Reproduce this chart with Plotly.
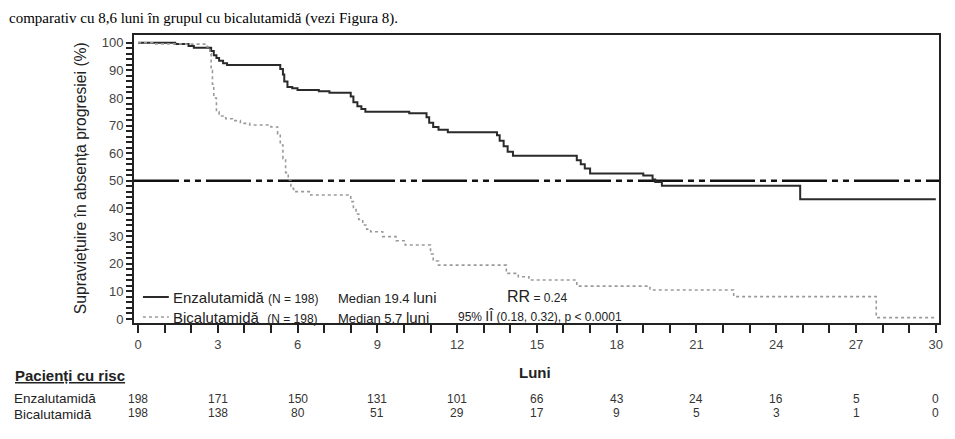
import plotly.graph_objects as go

# ---------------- data ----------------
enz_t = [0, 1.4, 1.9, 2.1, 2.75, 2.85, 2.95, 3.05, 3.2, 3.35, 5.35, 5.45, 5.5, 5.62, 5.8, 6.0,
         6.8, 7.2, 8.0, 8.1, 8.25, 8.4, 8.55, 10.2, 10.85, 10.95, 11.1, 11.3, 11.65,
         13.5, 13.6, 13.75, 13.9, 14.1, 16.5, 16.65, 16.8, 17.0, 19.0, 19.35, 19.45, 19.7, 24.9, 30.0]
enz_s = [100, 99.5, 98.8, 98.2, 97.0, 95.5, 94.5, 93.5, 92.6, 91.9, 90.5, 88.5, 86.0, 84.0, 83.5, 82.9,
         82.4, 81.9, 80.5, 78.5, 77.0, 76.0, 75.0, 74.5, 73.0, 71.0, 69.5, 68.5, 67.6,
         66.5, 64.5, 62.5, 60.5, 59.1, 57.5, 56.0, 54.5, 52.7, 51.9, 50.5, 49.6, 48.2, 43.3, 43.3]

bic_t = [0, 0.55, 1.8, 2.6, 2.7, 2.75, 2.8, 2.85, 2.95, 3.05, 3.3, 3.55, 3.85, 4.2, 5.0, 5.25, 5.35,
         5.45, 5.55, 5.65, 5.75, 5.85, 6.5, 8.0, 8.1, 8.2, 8.3, 8.45, 8.6, 8.75, 9.2, 9.7, 10.05,
         11.0, 11.1, 11.3, 13.85, 14.3, 14.7, 16.5, 19.25, 22.4, 27.76, 30.0]
bic_s = [100, 99.6, 99.5, 98.5, 96, 90, 85, 80, 75, 73.5, 72.5, 71.8, 70.8, 70.2, 69.5, 67, 63,
         58, 53, 50.3, 47.3, 46.1, 44.9, 42.5, 40, 38, 36, 34, 32.5, 31.6, 29.8, 28.3, 26.8,
         23.5, 21, 19.5, 16.5, 15.3, 14.1, 11.9, 10.5, 8.1, 0.5, 0.5]

risk_months = [0, 3, 6, 9, 12, 15, 18, 21, 24, 27, 30]
risk_enz = [198, 171, 150, 131, 101, 66, 43, 24, 16, 5, 0]
risk_bic = [198, 138, 80, 51, 29, 17, 9, 5, 3, 1, 0]

x_ticks = list(range(0, 31))
y_ticks = list(range(0, 101, 2))

FONT = "Liberation Sans, Arial, sans-serif"
SERIF = "Liberation Serif, Times New Roman, serif"
TXT = "#222222"
ENZ_COLOR = "#2a2a2a"
BIC_COLOR = "#9a9a9a"

# layout geometry (pixels)
W, H = 955, 439
L, R, T, B = 134, 12, 35, 116
PW, PH = W - L - R, H - T - B


def px_x(px):
    return (px - L) / PW


def px_y(py):
    return (H - B - py) / PH


fig = go.Figure()

fig.add_trace(go.Scatter(
    x=enz_t, y=enz_s, mode="lines", line=dict(shape="hv", color=ENZ_COLOR, width=2),
    name="Enzalutamidă", hoverinfo="skip", showlegend=False))
fig.add_trace(go.Scatter(
    x=bic_t, y=bic_s, mode="lines", line=dict(shape="hv", color=BIC_COLOR, width=1.6, dash="dot"),
    name="Bicalutamidă", hoverinfo="skip", showlegend=False))

# median reference line
fig.add_shape(type="line", xref="paper", x0=0, x1=1, yref="y", y0=50, y1=50,
              line=dict(color="#111111", width=2.5, dash="45px,5px,6px,5px,6px,5px"), layer="below")

# legend sample lines
fig.add_shape(type="line", xref="paper", yref="paper", x0=px_x(143), x1=px_x(169),
              y0=px_y(297), y1=px_y(297), line=dict(color=ENZ_COLOR, width=2))
fig.add_shape(type="line", xref="paper", yref="paper", x0=px_x(143), x1=px_x(169),
              y0=px_y(317), y1=px_y(317), line=dict(color=BIC_COLOR, width=1.6, dash="dot"))

ann = []
# header text
ann.append(dict(text="comparativ cu 8,6 luni în grupul cu bicalutamidă (vezi Figura 8).",
                xref="paper", yref="paper", x=px_x(6), y=px_y(19), xanchor="left", yanchor="middle",
                showarrow=False, font=dict(family=SERIF, size=15, color="#000000")))
# y title
ann.append(dict(text="Supraviețuire în absența progresiei (%)", xref="paper", yref="paper",
                x=px_x(80), y=px_y(178), xanchor="center", yanchor="middle", textangle=-90,
                showarrow=False, font=dict(family=FONT, size=15.7, color=TXT)))
# x title
ann.append(dict(text="<b>Luni</b>", xref="paper", yref="paper", x=px_x(537), y=px_y(372),
                xanchor="center", yanchor="middle", showarrow=False,
                font=dict(family=FONT, size=15, color=TXT)))
# legend texts
ann.append(dict(text="Enzalutamidă <span style='font-size:12px'>(N = 198)</span>", xref="paper", yref="paper",
                x=px_x(171), y=px_y(297), xanchor="left", yanchor="middle", showarrow=False,
                font=dict(family=FONT, size=15, color=TXT)))
ann.append(dict(text="Bicalutamidă&nbsp;&nbsp;<span style='font-size:12px'>(N = 198)</span>", xref="paper",
                yref="paper", x=px_x(171), y=px_y(317), xanchor="left", yanchor="middle", showarrow=False,
                font=dict(family=FONT, size=15, color=TXT)))
ann.append(dict(text="Median 19.4 <span style='font-size:15px'>luni</span>", xref="paper", yref="paper",
                x=px_x(337), y=px_y(297), xanchor="left", yanchor="middle", showarrow=False,
                font=dict(family=FONT, size=13, color=TXT)))
ann.append(dict(text="Median 5.7 <span style='font-size:15px'>luni</span>", xref="paper", yref="paper",
                x=px_x(337), y=px_y(317), xanchor="left", yanchor="middle", showarrow=False,
                font=dict(family=FONT, size=13, color=TXT)))
ann.append(dict(text="<span style='font-size:16px'>RR</span> = 0.24", xref="paper", yref="paper",
                x=px_x(507), y=px_y(296), xanchor="left", yanchor="middle", showarrow=False,
                font=dict(family=FONT, size=12, color=TXT)))
ann.append(dict(text="95% <span style='font-size:14px'>IÎ</span> (0.18, 0.32), p &lt; 0.0001",
                xref="paper", yref="paper",
                x=px_x(458), y=px_y(316), xanchor="left", yanchor="middle", showarrow=False,
                font=dict(family=FONT, size=12, color=TXT)))
# risk table
ann.append(dict(text="<b><u>Pacienți cu risc</u></b>", xref="paper", yref="paper", x=px_x(12), y=px_y(375),
                xanchor="left", yanchor="middle", showarrow=False, font=dict(family=FONT, size=15, color=TXT)))
ann.append(dict(text="Enzalutamidă", xref="paper", yref="paper", x=px_x(12), y=px_y(398.5),
                xanchor="left", yanchor="middle", showarrow=False, borderpad=0,
                font=dict(family=FONT, size=13.5, color=TXT)))
ann.append(dict(text="Bicalutamidă", xref="paper", yref="paper", x=px_x(12), y=px_y(414),
                xanchor="left", yanchor="middle", showarrow=False, borderpad=0,
                font=dict(family=FONT, size=13.5, color=TXT)))
for m, a, b in zip(risk_months, risk_enz, risk_bic):
    ann.append(dict(text=str(a), xref="x", yref="paper", x=m, y=px_y(398.5), xanchor="center",
                    yanchor="middle", showarrow=False, borderpad=0,
                    font=dict(family=FONT, size=12, color="#333333")))
    ann.append(dict(text=str(b), xref="x", yref="paper", x=m, y=px_y(413), xanchor="center",
                    yanchor="middle", showarrow=False, borderpad=0,
                    font=dict(family=FONT, size=12, color="#333333")))

fig.update_layout(
    width=W, height=H, margin=dict(l=L, r=R, t=T, b=B, pad=0),
    paper_bgcolor="white", plot_bgcolor="white",
    font=dict(family=FONT, color=TXT),
    showlegend=False,
    annotations=ann,
)

fig.update_xaxes(range=[-0.15, 30.12], tickmode="array", tickvals=x_ticks,
                 ticktext=[str(v) if v % 3 == 0 else "" for v in x_ticks],
                 ticks="outside", ticklen=8, tickwidth=2, tickcolor="#222",
                 showline=True, linecolor="#222", linewidth=2, mirror=True,
                 showgrid=False, zeroline=False,
                 tickfont=dict(family=FONT, size=13, color="#444"))
fig.update_yaxes(range=[-1.45, 102.8], tickmode="array", tickvals=y_ticks,
                 ticktext=[str(v) if v % 10 == 0 else "" for v in y_ticks],
                 ticks="outside", ticklen=6, tickwidth=1.5, tickcolor="#222",
                 showline=True, linecolor="#222", linewidth=2, mirror=True,
                 showgrid=False, zeroline=False,
                 tickfont=dict(family=FONT, size=13, color="#444"))

fig.write_html("out.html")
